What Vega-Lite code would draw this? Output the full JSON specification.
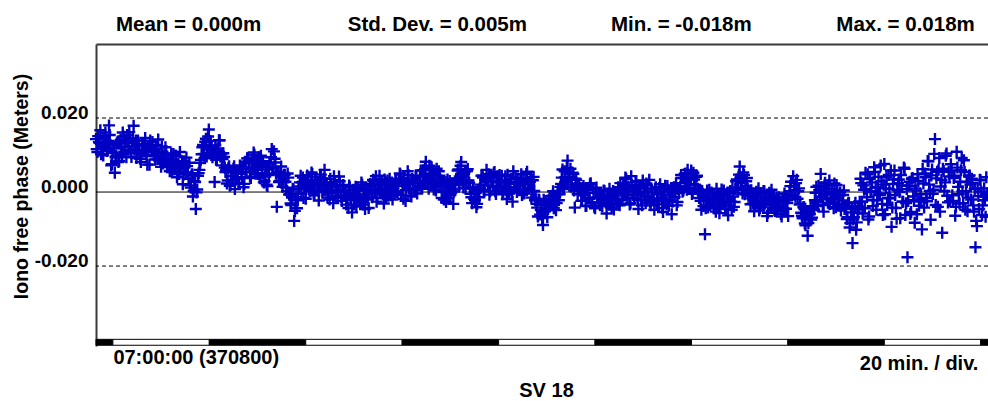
{
"$schema": "https://vega.github.io/schema/vega-lite/v6.json",
"width": 892,
"height": 302,
"autosize": {"type": "none"},
"padding": {"left": 96, "top": 44, "right": 0, "bottom": 55},
"background": "white",
"config": {
  "view": {"stroke": null},
  "font": "Liberation Sans",
  "axis": {"grid": false, "ticks": false, "tickSize": 0, "labelFont": "Liberation Sans", "labelFontWeight": "bold", "labelColor": "black", "titleFont": "Liberation Sans", "titleFontWeight": "bold", "titleColor": "black", "labelFlush": false, "labelOverlap": false, "labelBound": false},
  "axisY": {"labelExpr": "datum.value > 10 ? '0.020' : datum.value < -10 ? '-0.020' : '0.000'", "labelFontSize": 19, "labelBaseline": "alphabetic", "labelAlign": "right", "labelPadding": 8, "domain": true, "domainColor": "#3a3a3a", "domainWidth": 2, "titleFontSize": 19.5, "titleAngle": 270, "titleX": -75, "titleY": 142, "titleAlign": "center", "titleBaseline": "middle"}
},
"datasets": {
"pts": [
{"t":0,"v":14.3},{"t":0.3,"v":10.8},{"t":0.6,"v":13.5},{"t":0.9,"v":16.7},{"t":1.2,"v":12.2},{"t":1.5,"v":9.9},{"t":1.8,"v":14.8},{"t":2.1,"v":13.2},{"t":2.4,"v":11.4},{"t":2.7,"v":18.0},
{"t":3.0,"v":12.7},{"t":3.3,"v":7.5},{"t":3.6,"v":11.9},{"t":3.9,"v":5.2},{"t":4.2,"v":9.8},{"t":4.5,"v":13.6},{"t":4.8,"v":8.4},{"t":5.1,"v":14.1},{"t":5.4,"v":10.3},{"t":5.7,"v":15.0},
{"t":6.0,"v":12.1},{"t":6.3,"v":9.4},{"t":6.6,"v":13.8},{"t":6.9,"v":16.2},{"t":7.2,"v":11.0},{"t":7.5,"v":13.3},{"t":7.8,"v":17.9},{"t":8.1,"v":12.4},{"t":8.4,"v":9.2},{"t":8.7,"v":13.9},
{"t":9.0,"v":10.6},{"t":9.3,"v":8.1},{"t":9.6,"v":12.8},{"t":9.9,"v":11.3},{"t":10.2,"v":14.6},{"t":10.5,"v":9.7},{"t":10.8,"v":11.9},{"t":11.1,"v":7.4},{"t":11.4,"v":12.2},{"t":11.7,"v":13.5},
{"t":12.0,"v":10.1},{"t":12.3,"v":8.8},{"t":12.6,"v":11.6},{"t":12.9,"v":14.2},{"t":13.2,"v":9.5},{"t":13.5,"v":6.8},{"t":13.8,"v":10.9},{"t":14.1,"v":8.2},{"t":14.4,"v":12.1},{"t":14.7,"v":7.3},
{"t":15.0,"v":9.0},{"t":15.3,"v":5.6},{"t":15.6,"v":10.4},{"t":15.9,"v":8.6},{"t":16.2,"v":6.1},{"t":16.5,"v":9.9},{"t":16.8,"v":4.0},{"t":17.1,"v":7.7},{"t":17.4,"v":10.8},{"t":17.7,"v":6.4},
{"t":18.0,"v":2.1},{"t":18.3,"v":8.3},{"t":18.6,"v":5.2},{"t":18.9,"v":7.0},{"t":19.2,"v":3.6},{"t":19.5,"v":1.8},{"t":19.8,"v":4.5},{"t":20.1,"v":-1.2},{"t":20.4,"v":2.9},{"t":20.7,"v":-4.6},
{"t":21.0,"v":0.7},{"t":21.3,"v":5.1},{"t":21.6,"v":7.9},{"t":21.9,"v":10.2},{"t":22.2,"v":12.7},{"t":22.5,"v":9.1},{"t":22.8,"v":14.4},{"t":23.1,"v":11.5},{"t":23.4,"v":16.9},{"t":23.7,"v":13.8},
{"t":24.0,"v":12.3},{"t":24.3,"v":10.0},{"t":24.6,"v":2.7},{"t":24.9,"v":8.7},{"t":25.2,"v":11.8},{"t":25.5,"v":14.0},{"t":25.8,"v":9.6},{"t":26.1,"v":7.2},{"t":26.4,"v":10.5},{"t":26.7,"v":6.6},
{"t":27.0,"v":5.9},{"t":27.3,"v":3.1},{"t":27.6,"v":7.0},{"t":27.9,"v":1.9},{"t":28.2,"v":4.4},{"t":28.5,"v":6.3},{"t":28.8,"v":0.8},{"t":29.1,"v":3.7},{"t":29.4,"v":5.5},{"t":29.7,"v":2.2},
{"t":30.0,"v":6.8},{"t":30.3,"v":4.0},{"t":30.6,"v":1.3},{"t":30.9,"v":8.2},{"t":31.2,"v":5.4},{"t":31.5,"v":9.1},{"t":31.8,"v":6.6},{"t":32.1,"v":3.8},{"t":32.4,"v":7.9},{"t":32.7,"v":10.7},
{"t":33.0,"v":6.0},{"t":33.3,"v":8.5},{"t":33.6,"v":4.9},{"t":33.9,"v":7.3},{"t":34.2,"v":9.8},{"t":34.5,"v":5.1},{"t":34.8,"v":2.6},{"t":35.1,"v":4.2},{"t":35.4,"v":2.0},{"t":35.7,"v":6.1},
{"t":36.0,"v":7.8},{"t":36.3,"v":9.4},{"t":36.6,"v":6.5},{"t":36.9,"v":11.0},{"t":37.2,"v":8.0},{"t":37.5,"v":-4.0},{"t":37.8,"v":5.3},{"t":38.1,"v":3.0},{"t":38.4,"v":6.9},{"t":38.7,"v":1.4},
{"t":39.0,"v":4.7},{"t":39.3,"v":2.8},{"t":39.6,"v":0.3},{"t":39.9,"v":3.9},{"t":40.2,"v":-0.6},{"t":40.5,"v":-3.5},{"t":40.8,"v":0.9},{"t":41.1,"v":-7.8},{"t":41.4,"v":-2.1},{"t":41.7,"v":-4.4},
{"t":42.0,"v":1.5},{"t":42.3,"v":2.6},{"t":42.6,"v":-0.4},{"t":42.9,"v":3.9},{"t":43.2,"v":1.1},{"t":43.5,"v":-1.8},{"t":43.8,"v":4.5},{"t":44.1,"v":2.0},{"t":44.4,"v":0.2},{"t":44.7,"v":5.3},
{"t":45.0,"v":1.6},{"t":45.3,"v":-0.9},{"t":45.6,"v":3.3},{"t":45.9,"v":2.4},{"t":46.2,"v":-2.3},{"t":46.5,"v":4.1},{"t":46.8,"v":1.9},{"t":47.1,"v":0.5},{"t":47.4,"v":6.0},{"t":47.7,"v":2.2},
{"t":48.0,"v":-1.5},{"t":48.3,"v":1.3},{"t":48.6,"v":3.6},{"t":48.9,"v":-0.2},{"t":49.2,"v":-3.0},{"t":49.5,"v":2.8},{"t":49.8,"v":0.6},{"t":50.1,"v":-1.1},{"t":50.4,"v":4.2},{"t":50.7,"v":0.1},
{"t":51.0,"v":-2.4},{"t":51.3,"v":1.9},{"t":51.6,"v":0.3},{"t":51.9,"v":-3.4},{"t":52.2,"v":-0.7},{"t":52.5,"v":1.8},{"t":52.8,"v":-2.2},{"t":53.1,"v":-5.5},{"t":53.4,"v":0.6},{"t":53.7,"v":-1.6},
{"t":54.0,"v":-3.9},{"t":54.3,"v":1.2},{"t":54.6,"v":-0.9},{"t":54.9,"v":-2.7},{"t":55.2,"v":2.0},{"t":55.5,"v":-1.3},{"t":55.8,"v":-4.6},{"t":56.1,"v":0.4},{"t":56.4,"v":-2.0},{"t":56.7,"v":-0.2},
{"t":57.0,"v":1.7},{"t":57.3,"v":-1.4},{"t":57.6,"v":3.0},{"t":57.9,"v":0.5},{"t":58.2,"v":-2.6},{"t":58.5,"v":2.3},{"t":58.8,"v":4.4},{"t":59.1,"v":-0.3},{"t":59.4,"v":1.0},{"t":59.7,"v":-3.1},
{"t":60.0,"v":2.7},{"t":60.3,"v":0.9},{"t":60.6,"v":-1.0},{"t":60.9,"v":3.6},{"t":61.2,"v":1.4},{"t":61.5,"v":-2.0},{"t":61.8,"v":0.2},{"t":62.1,"v":3.1},{"t":62.4,"v":0.0},{"t":62.7,"v":2.4},
{"t":63.0,"v":5.0},{"t":63.3,"v":-0.8},{"t":63.6,"v":1.7},{"t":63.9,"v":3.8},{"t":64.2,"v":-2.4},{"t":64.5,"v":2.0},{"t":64.8,"v":4.6},{"t":65.1,"v":0.7},{"t":65.4,"v":-1.2},{"t":65.7,"v":2.9},
{"t":66.0,"v":1.1},{"t":66.3,"v":4.2},{"t":66.6,"v":-0.4},{"t":66.9,"v":2.5},{"t":67.2,"v":4.1},{"t":67.5,"v":1.6},{"t":67.8,"v":5.9},{"t":68.1,"v":2.8},{"t":68.4,"v":8.2},{"t":68.7,"v":3.4},
{"t":69.0,"v":0.9},{"t":69.3,"v":5.0},{"t":69.6,"v":6.7},{"t":69.9,"v":2.2},{"t":70.2,"v":4.5},{"t":70.5,"v":0.4},{"t":70.8,"v":3.0},{"t":71.1,"v":5.6},{"t":71.4,"v":1.5},{"t":71.7,"v":-1.6},
{"t":72.0,"v":2.6},{"t":72.3,"v":0.1},{"t":72.6,"v":-2.7},{"t":72.9,"v":3.4},{"t":73.2,"v":1.0},{"t":73.5,"v":-0.8},{"t":73.8,"v":2.1},{"t":74.1,"v":-3.2},{"t":74.4,"v":0.7},{"t":74.7,"v":3.6},
{"t":75.0,"v":5.8},{"t":75.3,"v":2.0},{"t":75.6,"v":7.1},{"t":75.9,"v":4.3},{"t":76.2,"v":1.2},{"t":76.5,"v":5.5},{"t":76.8,"v":3.1},{"t":77.1,"v":6.2},{"t":77.4,"v":2.5},{"t":77.7,"v":-0.5},
{"t":78.0,"v":-3.0},{"t":78.3,"v":1.0},{"t":78.6,"v":-2.2},{"t":78.9,"v":-4.1},{"t":79.2,"v":0.3},{"t":79.5,"v":-1.4},{"t":79.8,"v":2.0},{"t":80.1,"v":4.4},{"t":80.4,"v":0.6},{"t":80.7,"v":3.3},
{"t":81.0,"v":6.0},{"t":81.3,"v":1.8},{"t":81.6,"v":-0.7},{"t":81.9,"v":3.9},{"t":82.2,"v":2.6},{"t":82.5,"v":5.1},{"t":82.8,"v":0.2},{"t":83.1,"v":3.0},{"t":83.4,"v":1.5},{"t":83.7,"v":4.6},
{"t":84.0,"v":2.7},{"t":84.3,"v":-0.6},{"t":84.6,"v":1.4},{"t":84.9,"v":4.3},{"t":85.2,"v":-1.9},{"t":85.5,"v":2.2},{"t":85.8,"v":0.5},{"t":86.1,"v":3.5},{"t":86.4,"v":-2.6},{"t":86.7,"v":1.0},
{"t":87.0,"v":3.9},{"t":87.3,"v":0.0},{"t":87.6,"v":2.4},{"t":87.9,"v":1.6},{"t":88.2,"v":4.8},{"t":88.5,"v":2.1},{"t":88.8,"v":-0.4},{"t":89.1,"v":3.6},{"t":89.4,"v":5.5},{"t":89.7,"v":1.0},
{"t":90.0,"v":2.8},{"t":90.3,"v":-1.5},{"t":90.6,"v":3.2},{"t":90.9,"v":0.3},{"t":91.2,"v":-1.8},{"t":91.5,"v":-4.2},{"t":91.8,"v":-2.0},{"t":92.1,"v":-6.1},{"t":92.4,"v":-3.3},{"t":92.7,"v":-8.9},
{"t":93.0,"v":-5.0},{"t":93.3,"v":-2.5},{"t":93.6,"v":-6.8},{"t":93.9,"v":-3.9},{"t":94.2,"v":-1.2},{"t":94.5,"v":-3.6},{"t":94.8,"v":0.2},{"t":95.1,"v":-2.8},{"t":95.4,"v":-4.9},{"t":95.7,"v":-0.6},
{"t":96.0,"v":-2.2},{"t":96.3,"v":1.4},{"t":96.6,"v":3.9},{"t":96.9,"v":0.8},{"t":97.2,"v":5.6},{"t":97.5,"v":2.7},{"t":97.8,"v":8.5},{"t":98.1,"v":4.1},{"t":98.4,"v":6.3},{"t":98.7,"v":2.0},
{"t":99.0,"v":4.9},{"t":99.3,"v":-4.2},{"t":99.6,"v":3.3},{"t":99.9,"v":-0.6},{"t":100.2,"v":2.2},{"t":100.5,"v":0.5},{"t":100.8,"v":-2.4},{"t":101.1,"v":1.6},{"t":101.4,"v":-0.9},{"t":101.7,"v":-3.7},
{"t":102.0,"v":0.8},{"t":102.3,"v":-1.8},{"t":102.6,"v":2.4},{"t":102.9,"v":-2.9},{"t":103.2,"v":-0.2},{"t":103.5,"v":-4.4},{"t":103.8,"v":1.2},{"t":104.1,"v":-1.4},{"t":104.4,"v":-3.0},{"t":104.7,"v":-1.0},
{"t":105.0,"v":-3.8},{"t":105.3,"v":0.4},{"t":105.6,"v":-2.5},{"t":105.9,"v":-5.8},{"t":106.2,"v":-1.7},{"t":106.5,"v":0.9},{"t":106.8,"v":-3.2},{"t":107.1,"v":-2.0},{"t":107.4,"v":-4.7},{"t":107.7,"v":-0.6},
{"t":108.0,"v":-2.9},{"t":108.3,"v":1.3},{"t":108.6,"v":-3.6},{"t":108.9,"v":0.6},{"t":109.2,"v":-2.1},{"t":109.5,"v":2.0},{"t":109.8,"v":3.9},{"t":110.1,"v":-0.9},{"t":110.4,"v":1.5},{"t":110.7,"v":-3.4},
{"t":111.0,"v":4.3},{"t":111.3,"v":0.2},{"t":111.6,"v":-1.6},{"t":111.9,"v":2.7},{"t":112.2,"v":-0.4},{"t":112.5,"v":-4.6},{"t":112.8,"v":1.0},{"t":113.1,"v":-2.3},{"t":113.4,"v":3.1},{"t":113.7,"v":-0.9},
{"t":114.0,"v":-3.0},{"t":114.3,"v":1.8},{"t":114.6,"v":-1.2},{"t":114.9,"v":-2.6},{"t":115.2,"v":0.7},{"t":115.5,"v":-1.9},{"t":115.8,"v":-4.8},{"t":116.1,"v":1.3},{"t":116.4,"v":-0.4},{"t":116.7,"v":-3.3},
{"t":117.0,"v":2.1},{"t":117.3,"v":-1.5},{"t":117.6,"v":-5.4},{"t":117.9,"v":0.0},{"t":118.2,"v":-2.2},{"t":118.5,"v":1.6},{"t":118.8,"v":-3.7},{"t":119.1,"v":-0.8},{"t":119.4,"v":-6.0},{"t":119.7,"v":0.9},
{"t":120.0,"v":-1.3},{"t":120.3,"v":2.4},{"t":120.6,"v":-2.7},{"t":120.9,"v":-0.3},{"t":121.2,"v":1.5},{"t":121.5,"v":3.8},{"t":121.8,"v":0.4},{"t":122.1,"v":4.9},{"t":122.4,"v":2.6},{"t":122.7,"v":6.0},
{"t":123.0,"v":1.1},{"t":123.3,"v":3.4},{"t":123.6,"v":-0.5},{"t":123.9,"v":5.2},{"t":124.2,"v":2.0},{"t":124.5,"v":4.1},{"t":124.8,"v":0.9},{"t":125.1,"v":-1.6},{"t":125.4,"v":-2.4},{"t":125.7,"v":0.3},
{"t":126.0,"v":-3.8},{"t":126.3,"v":-11.4},{"t":126.6,"v":-1.5},{"t":126.9,"v":-4.2},{"t":127.2,"v":0.6},{"t":127.5,"v":-2.9},{"t":127.8,"v":-0.7},{"t":128.1,"v":-4.4},{"t":128.4,"v":-1.6},{"t":128.7,"v":0.9},
{"t":129.0,"v":-3.5},{"t":129.3,"v":-5.7},{"t":129.6,"v":-1.1},{"t":129.9,"v":-2.8},{"t":130.2,"v":0.4},{"t":130.5,"v":-3.9},{"t":130.8,"v":-2.1},{"t":131.1,"v":-6.3},{"t":131.4,"v":-0.3},{"t":131.7,"v":-2.6},
{"t":132.0,"v":1.2},{"t":132.3,"v":-4.0},{"t":132.6,"v":0.8},{"t":132.9,"v":3.4},{"t":133.2,"v":1.1},{"t":133.5,"v":6.9},{"t":133.8,"v":2.5},{"t":134.1,"v":-0.4},{"t":134.4,"v":4.6},{"t":134.7,"v":1.7},
{"t":135.0,"v":3.8},{"t":135.3,"v":-1.0},{"t":135.6,"v":-1.7},{"t":135.9,"v":0.5},{"t":136.2,"v":-3.1},{"t":136.5,"v":-5.2},{"t":136.8,"v":-0.8},{"t":137.1,"v":-2.4},{"t":137.4,"v":1.0},{"t":137.7,"v":-4.3},
{"t":138.0,"v":-1.3},{"t":138.3,"v":-3.6},{"t":138.6,"v":0.2},{"t":138.9,"v":-2.7},{"t":139.2,"v":-6.5},{"t":139.5,"v":-1.0},{"t":139.8,"v":-3.3},{"t":140.1,"v":0.6},{"t":140.4,"v":-2.0},{"t":140.7,"v":-4.8},
{"t":141.0,"v":-2.5},{"t":141.3,"v":-5.1},{"t":141.6,"v":-1.4},{"t":141.9,"v":-3.9},{"t":142.2,"v":-6.6},{"t":142.5,"v":-2.2},{"t":142.8,"v":-0.4},{"t":143.1,"v":-4.5},{"t":143.4,"v":-3.0},{"t":143.7,"v":-1.1},
{"t":144.0,"v":1.6},{"t":144.3,"v":-0.9},{"t":144.6,"v":4.3},{"t":144.9,"v":0.5},{"t":145.2,"v":2.4},{"t":145.5,"v":-1.8},{"t":145.8,"v":1.0},{"t":146.1,"v":-3.2},{"t":146.4,"v":-6.4},{"t":146.7,"v":-4.1},
{"t":147.0,"v":-8.5},{"t":147.3,"v":-5.6},{"t":147.6,"v":-11.8},{"t":147.9,"v":-7.0},{"t":148.2,"v":-3.9},{"t":148.5,"v":-6.9},{"t":148.8,"v":-4.6},{"t":149.1,"v":-2.2},{"t":149.4,"v":1.4},{"t":149.7,"v":-3.8},
{"t":150.0,"v":0.5},{"t":150.3,"v":4.9},{"t":150.6,"v":-1.2},{"t":150.9,"v":-5.3},{"t":151.2,"v":2.5},{"t":151.5,"v":-0.6},{"t":151.8,"v":-2.9},{"t":152.1,"v":3.1},{"t":152.4,"v":-1.9},{"t":152.7,"v":0.8},
{"t":153.0,"v":-4.4},{"t":153.3,"v":-1.5},{"t":153.6,"v":1.9},{"t":153.9,"v":-3.4},{"t":154.2,"v":-0.9},{"t":154.5,"v":-5.0},{"t":154.8,"v":-2.3},{"t":155.1,"v":0.4},{"t":155.4,"v":-4.0},{"t":155.7,"v":-7.3},
{"t":156.0,"v":-3.0},{"t":156.3,"v":-9.6},{"t":156.6,"v":-5.5},{"t":156.9,"v":-13.8},{"t":157.2,"v":-6.8},{"t":157.5,"v":-2.9},{"t":157.8,"v":-8.2},{"t":158.1,"v":-4.7},{"t":158.4,"v":-2.6},{"t":158.7,"v":2.4},
{"t":159.0,"v":-5.8},{"t":159.3,"v":0.6},{"t":159.6,"v":5.2},{"t":159.9,"v":-1.4},{"t":160.2,"v":-7.4},{"t":160.5,"v":3.5},{"t":160.8,"v":0.0},{"t":161.1,"v":-3.8},{"t":161.4,"v":6.7},{"t":161.7,"v":1.3},
{"t":162.0,"v":-2.2},{"t":162.3,"v":4.1},{"t":162.6,"v":-0.8},{"t":162.9,"v":2.9},{"t":163.2,"v":-6.2},{"t":163.5,"v":7.6},{"t":163.8,"v":1.0},{"t":164.1,"v":-3.5},{"t":164.4,"v":4.6},{"t":164.7,"v":-1.7},
{"t":165.0,"v":-9.4},{"t":165.3,"v":2.2},{"t":165.6,"v":5.8},{"t":165.9,"v":-4.3},{"t":166.2,"v":0.5},{"t":166.5,"v":3.4},{"t":166.8,"v":-7.1},{"t":167.1,"v":1.8},{"t":167.4,"v":-2.6},{"t":167.7,"v":6.3},
{"t":168.0,"v":-3.0},{"t":168.3,"v":-17.6},{"t":168.6,"v":1.7},{"t":168.9,"v":-5.9},{"t":169.2,"v":3.6},{"t":169.5,"v":-1.2},{"t":169.8,"v":-8.3},{"t":170.1,"v":0.4},{"t":170.4,"v":4.8},{"t":170.7,"v":-3.7},
{"t":171.0,"v":-0.6},{"t":171.3,"v":-10.1},{"t":171.6,"v":2.3},{"t":171.9,"v":5.0},{"t":172.2,"v":-1.6},{"t":172.5,"v":8.4},{"t":172.8,"v":2.0},{"t":173.1,"v":-7.5},{"t":173.4,"v":6.1},{"t":173.7,"v":0.6},
{"t":174.0,"v":14.3},{"t":174.3,"v":3.7},{"t":174.6,"v":-4.0},{"t":174.9,"v":9.2},{"t":175.2,"v":1.5},{"t":175.5,"v":-11.0},{"t":175.8,"v":5.7},{"t":176.1,"v":2.6},{"t":176.4,"v":10.4},{"t":176.7,"v":-2.8},
{"t":177.0,"v":4.2},{"t":177.3,"v":7.5},{"t":177.6,"v":-0.9},{"t":177.9,"v":3.8},{"t":178.2,"v":-6.4},{"t":178.5,"v":10.9},{"t":178.8,"v":1.4},{"t":179.1,"v":-3.1},{"t":179.4,"v":5.9},{"t":179.7,"v":0.2},
{"t":180.0,"v":8.6},{"t":180.3,"v":-4.8},{"t":180.6,"v":2.7},{"t":180.9,"v":-1.5},{"t":181.2,"v":4.5},{"t":181.5,"v":-2.0},{"t":181.8,"v":2.4},{"t":182.1,"v":-5.3},{"t":182.4,"v":-14.9},{"t":182.7,"v":-9.2},
{"t":183.0,"v":-1.1},{"t":183.3,"v":3.3},{"t":183.6,"v":0.1},{"t":183.9,"v":-3.6},{"t":184.2,"v":1.0},{"t":184.5,"v":-6.7},{"t":184.8,"v":-0.4},
{"t":0.15,"v":11.6},{"t":0.45,"v":15.1},{"t":0.75,"v":13.3},{"t":1.05,"v":10.2},{"t":1.35,"v":14.6},{"t":1.65,"v":12.5},{"t":1.95,"v":16.1},{"t":2.25,"v":11.1},{"t":2.55,"v":13.8},{"t":2.85,"v":15.4},
{"t":3.15,"v":7.2},{"t":3.45,"v":10.6},{"t":3.75,"v":11.8},{"t":4.05,"v":9.4},{"t":4.35,"v":13.2},{"t":4.65,"v":8.1},{"t":4.95,"v":13.1},{"t":5.25,"v":12.3},{"t":5.55,"v":16.1},{"t":5.85,"v":10.9},
{"t":6.15,"v":13.5},{"t":6.45,"v":15.4},{"t":6.75,"v":11.4},{"t":7.05,"v":14.5},{"t":7.35,"v":9.5},{"t":7.65,"v":14.5},{"t":7.95,"v":11.4},{"t":8.25,"v":13.9},{"t":8.55,"v":10.6},{"t":8.85,"v":12.7},
{"t":9.15,"v":9.0},{"t":9.45,"v":10.2},{"t":9.75,"v":13.0},{"t":10.05,"v":11.4},{"t":10.35,"v":11.0},{"t":10.65,"v":7.4},{"t":10.95,"v":12.2},{"t":11.25,"v":13.9},{"t":11.55,"v":11.0},{"t":11.85,"v":11.4},
{"t":12.15,"v":9.7},{"t":12.45,"v":12.7},{"t":12.75,"v":8.9},{"t":13.05,"v":10.3},{"t":13.35,"v":8.6},{"t":13.65,"v":12.3},{"t":13.95,"v":7.7},{"t":14.25,"v":9.9},{"t":14.55,"v":10.2},{"t":14.85,"v":7.2},
{"t":15.15,"v":8.0},{"t":15.45,"v":7.6},{"t":15.75,"v":5.4},{"t":16.05,"v":10.3},{"t":16.35,"v":6.7},{"t":16.65,"v":9.7},{"t":16.95,"v":7.2},{"t":17.25,"v":4.9},{"t":17.55,"v":6.8},{"t":17.85,"v":8.3},
{"t":18.15,"v":4.7},{"t":18.45,"v":7.2},{"t":18.75,"v":9.3},{"t":19.05,"v":5.3},{"t":19.35,"v":7.9},{"t":19.65,"v":1.2},{"t":19.95,"v":4.8},{"t":20.25,"v":0.3},{"t":20.55,"v":2.7},{"t":20.85,"v":-0.1},
{"t":21.15,"v":4.4},{"t":21.45,"v":6.0},{"t":21.75,"v":8.7},{"t":22.05,"v":12.1},{"t":22.35,"v":10.3},{"t":22.65,"v":13.6},{"t":22.95,"v":9.6},{"t":23.25,"v":15.0},{"t":23.55,"v":12.1},{"t":23.85,"v":10.5},
{"t":24.15,"v":9.4},{"t":24.45,"v":11.2},{"t":24.75,"v":12.6},{"t":25.05,"v":8.8},{"t":25.35,"v":11.1},{"t":25.65,"v":14.0},{"t":25.95,"v":10.2},{"t":26.25,"v":8.9},{"t":26.55,"v":9.5},{"t":26.85,"v":5.4},
{"t":27.15,"v":2.3},{"t":27.45,"v":6.4},{"t":27.75,"v":1.7},{"t":28.05,"v":5.8},{"t":28.35,"v":3.2},{"t":28.65,"v":7.0},{"t":28.95,"v":3.8},{"t":29.25,"v":5.1},{"t":29.55,"v":2.4},{"t":29.85,"v":7.2},
{"t":30.15,"v":4.9},{"t":30.45,"v":6.2},{"t":30.75,"v":2.2},{"t":31.05,"v":6.3},{"t":31.35,"v":9.1},{"t":31.65,"v":8.3},{"t":31.95,"v":4.2},{"t":32.25,"v":8.6},{"t":32.55,"v":6.5},{"t":32.85,"v":10.1},
{"t":33.15,"v":5.1},{"t":33.45,"v":7.8},{"t":33.75,"v":9.4},{"t":34.05,"v":3.7},{"t":34.35,"v":7.1},{"t":34.65,"v":8.3},{"t":34.95,"v":2.9},{"t":35.25,"v":6.7},{"t":35.55,"v":1.6},{"t":35.85,"v":4.6},
{"t":36.15,"v":7.8},{"t":36.45,"v":11.6},{"t":36.75,"v":6.4},{"t":37.05,"v":9.0},{"t":37.35,"v":5.0},{"t":37.65,"v":5.5},{"t":37.95,"v":2.7},{"t":38.25,"v":5.2},{"t":38.55,"v":3.1},{"t":38.85,"v":2.8},
{"t":39.15,"v":4.7},{"t":39.45,"v":1.2},{"t":39.75,"v":5.0},{"t":40.05,"v":-0.7},{"t":40.35,"v":-3.1},{"t":40.65,"v":-1.5},{"t":40.95,"v":0.7},{"t":41.25,"v":-5.1},{"t":41.55,"v":-1.3},{"t":41.85,"v":-2.2},
{"t":42.15,"v":0.8},{"t":42.45,"v":4.4},{"t":42.75,"v":2.6},{"t":43.05,"v":-1.6},{"t":43.35,"v":3.2},{"t":43.65,"v":1.7},{"t":43.95,"v":4.1},{"t":44.25,"v":0.7},{"t":44.55,"v":2.4},{"t":44.85,"v":4.9},
{"t":45.15,"v":-0.4},{"t":45.45,"v":3.2},{"t":45.75,"v":1.3},{"t":46.05,"v":0.5},{"t":46.35,"v":2.0},{"t":46.65,"v":4.7},{"t":46.95,"v":-0.1},{"t":47.25,"v":3.6},{"t":47.55,"v":0.4},{"t":47.85,"v":2.3},
{"t":48.15,"v":0.2},{"t":48.45,"v":-2.0},{"t":48.75,"v":2.1},{"t":49.05,"v":-0.3},{"t":49.35,"v":4.3},{"t":49.65,"v":-1.6},{"t":49.95,"v":1.9},{"t":50.25,"v":0.3},{"t":50.55,"v":2.9},{"t":50.85,"v":-1.3},
{"t":51.15,"v":1.8},{"t":51.45,"v":-1.1},{"t":51.75,"v":0.1},{"t":52.05,"v":-2.0},{"t":52.35,"v":-4.3},{"t":52.65,"v":1.3},{"t":52.95,"v":-2.1},{"t":53.25,"v":-0.3},{"t":53.55,"v":-3.4},{"t":53.85,"v":1.4},
{"t":54.15,"v":-1.6},{"t":54.45,"v":0.4},{"t":54.75,"v":-1.8},{"t":55.05,"v":2.6},{"t":55.35,"v":-3.4},{"t":55.65,"v":0.9},{"t":55.95,"v":-1.4},{"t":56.25,"v":-0.6},{"t":56.55,"v":-4.3},{"t":56.85,"v":2.2},
{"t":57.15,"v":1.0},{"t":57.45,"v":3.3},{"t":57.75,"v":-0.3},{"t":58.05,"v":4.3},{"t":58.35,"v":-1.6},{"t":58.65,"v":1.9},{"t":58.95,"v":0.3},{"t":59.25,"v":2.9},{"t":59.55,"v":-0.6},{"t":59.85,"v":3.4},
{"t":60.15,"v":-1.4},{"t":60.45,"v":3.1},{"t":60.75,"v":1.8},{"t":61.05,"v":-0.9},{"t":61.35,"v":2.6},{"t":61.65,"v":0.6},{"t":61.95,"v":-0.4},{"t":62.25,"v":2.9},{"t":62.55,"v":0.0},{"t":62.85,"v":3.3},
{"t":63.15,"v":4.7},{"t":63.45,"v":2.8},{"t":63.75,"v":-1.8},{"t":64.05,"v":2.4},{"t":64.35,"v":0.5},{"t":64.65,"v":5.6},{"t":64.95,"v":1.0},{"t":65.25,"v":-1.0},{"t":65.55,"v":3.5},{"t":65.85,"v":2.6},
{"t":66.15,"v":0.5},{"t":66.45,"v":4.3},{"t":66.75,"v":2.9},{"t":67.05,"v":2.3},{"t":67.35,"v":5.8},{"t":67.65,"v":1.2},{"t":67.95,"v":4.5},{"t":68.25,"v":6.2},{"t":68.55,"v":2.7},{"t":68.85,"v":3.6},
{"t":69.15,"v":7.1},{"t":69.45,"v":2.3},{"t":69.75,"v":4.6},{"t":70.05,"v":0.7},{"t":70.35,"v":4.8},{"t":70.65,"v":6.3},{"t":70.95,"v":2.6},{"t":71.25,"v":4.4},{"t":71.55,"v":3.1},{"t":71.85,"v":0.0},
{"t":72.15,"v":-2.0},{"t":72.45,"v":2.7},{"t":72.75,"v":1.8},{"t":73.05,"v":-1.6},{"t":73.35,"v":3.0},{"t":73.65,"v":-0.3},{"t":73.95,"v":2.3},{"t":74.25,"v":0.1},{"t":74.55,"v":2.0},{"t":74.85,"v":3.6},
{"t":75.15,"v":6.1},{"t":75.45,"v":4.2},{"t":75.75,"v":8.1},{"t":76.05,"v":2.4},{"t":76.35,"v":4.9},{"t":76.65,"v":1.0},{"t":76.95,"v":5.7},{"t":77.25,"v":3.1},{"t":77.55,"v":1.0},{"t":77.85,"v":-1.4},
{"t":78.15,"v":1.3},{"t":78.45,"v":-1.8},{"t":78.75,"v":-0.2},{"t":79.05,"v":-3.2},{"t":79.35,"v":0.6},{"t":79.65,"v":1.2},{"t":79.95,"v":4.4},{"t":80.25,"v":3.9},{"t":80.55,"v":0.3},{"t":80.85,"v":3.3},
{"t":81.15,"v":3.0},{"t":81.45,"v":4.8},{"t":81.75,"v":0.2},{"t":82.05,"v":2.7},{"t":82.35,"v":1.7},{"t":82.65,"v":5.4},{"t":82.95,"v":-0.5},{"t":83.25,"v":4.3},{"t":83.55,"v":3.1},{"t":83.85,"v":1.3},
{"t":84.15,"v":4.4},{"t":84.45,"v":0.1},{"t":84.75,"v":3.0},{"t":85.05,"v":0.6},{"t":85.35,"v":4.7},{"t":85.65,"v":-0.4},{"t":85.95,"v":2.7},{"t":86.25,"v":0.0},{"t":86.55,"v":5.6},{"t":86.85,"v":1.2},
{"t":87.15,"v":2.8},{"t":87.45,"v":3.6},{"t":87.75,"v":0.7},{"t":88.05,"v":3.3},{"t":88.35,"v":-0.8},{"t":88.65,"v":3.3},{"t":88.95,"v":0.6},{"t":89.25,"v":4.9},{"t":89.55,"v":1.1},{"t":89.85,"v":2.1},
{"t":90.15,"v":3.3},{"t":90.45,"v":0.2},{"t":90.75,"v":4.1},{"t":91.05,"v":-2.2},{"t":91.35,"v":-3.2},{"t":91.65,"v":-6.6},{"t":91.95,"v":-2.2},{"t":92.25,"v":-4.9},{"t":92.55,"v":-7.0},{"t":92.85,"v":-2.1},
{"t":93.15,"v":-5.2},{"t":93.45,"v":-3.3},{"t":93.75,"v":-4.6},{"t":94.05,"v":-1.8},{"t":94.35,"v":-2.6},{"t":94.65,"v":-1.0},{"t":94.95,"v":-4.4},{"t":95.25,"v":-1.3},{"t":95.55,"v":-3.0},{"t":95.85,"v":0.3},
{"t":96.15,"v":-0.6},{"t":96.45,"v":2.2},{"t":96.75,"v":6.1},{"t":97.05,"v":1.1},{"t":97.35,"v":4.0},{"t":97.65,"v":6.6},{"t":97.95,"v":3.3},{"t":98.25,"v":4.9},{"t":98.55,"v":1.4},{"t":98.85,"v":5.2},
{"t":99.15,"v":0.4},{"t":99.45,"v":3.6},{"t":99.75,"v":2.3},{"t":100.05,"v":1.9},{"t":100.35,"v":0.8},{"t":100.65,"v":-2.4},{"t":100.95,"v":1.1},{"t":101.25,"v":-0.3},{"t":101.55,"v":-3.8},{"t":101.85,"v":0.6},
{"t":102.15,"v":-1.5},{"t":102.45,"v":2.1},{"t":102.75,"v":-2.9},{"t":103.05,"v":1.0},{"t":103.35,"v":-4.0},{"t":103.65,"v":0.9},{"t":103.95,"v":-1.7},{"t":104.25,"v":-0.4},{"t":104.55,"v":-3.6},{"t":104.85,"v":-0.8},
{"t":105.15,"v":-2.0},{"t":105.45,"v":0.3},{"t":105.75,"v":-2.8},{"t":106.05,"v":-0.7},{"t":106.35,"v":-3.3},{"t":106.65,"v":-1.1},{"t":106.95,"v":-4.2},{"t":107.25,"v":0.3},{"t":107.55,"v":-1.2},{"t":107.85,"v":-2.0},
{"t":108.15,"v":-0.1},{"t":108.45,"v":-3.3},{"t":108.75,"v":2.4},{"t":109.05,"v":-2.2},{"t":109.35,"v":1.6},{"t":109.65,"v":-0.4},{"t":109.95,"v":3.6},{"t":110.25,"v":-1.6},{"t":110.55,"v":1.0},{"t":110.85,"v":-3.0},
{"t":111.15,"v":2.0},{"t":111.45,"v":-0.8},{"t":111.75,"v":0.4},{"t":112.05,"v":2.9},{"t":112.35,"v":-2.1},{"t":112.65,"v":1.7},{"t":112.95,"v":-0.4},{"t":113.25,"v":-3.6},{"t":113.55,"v":1.2},{"t":113.85,"v":0.0},
{"t":114.15,"v":2.3},{"t":114.45,"v":-1.3},{"t":114.75,"v":3.3},{"t":115.05,"v":-3.6},{"t":115.35,"v":-0.1},{"t":115.65,"v":-1.7},{"t":115.95,"v":0.9},{"t":116.25,"v":-3.2},{"t":116.55,"v":-2.4},{"t":116.85,"v":1.1},
{"t":117.15,"v":-0.7},{"t":117.45,"v":-4.3},{"t":117.75,"v":-1.5},{"t":118.05,"v":1.7},{"t":118.35,"v":-3.4},{"t":118.65,"v":0.6},{"t":118.95,"v":-2.2},{"t":119.25,"v":0.6},{"t":119.55,"v":-2.6},{"t":119.85,"v":1.3},
{"t":120.15,"v":-0.2},{"t":120.45,"v":-3.6},{"t":120.75,"v":0.8},{"t":121.05,"v":1.1},{"t":121.35,"v":4.6},{"t":121.65,"v":0.1},{"t":121.95,"v":3.8},{"t":122.25,"v":5.0},{"t":122.55,"v":0.6},{"t":122.85,"v":4.1},
{"t":123.15,"v":2.1},{"t":123.45,"v":5.8},{"t":123.75,"v":-0.1},{"t":124.05,"v":3.4},{"t":124.35,"v":1.8},{"t":124.65,"v":4.4},{"t":124.95,"v":0.3},{"t":125.25,"v":0.5},{"t":125.55,"v":-4.8},{"t":125.85,"v":-0.9},
{"t":126.15,"v":-1.1},{"t":126.45,"v":-4.4},{"t":126.75,"v":0.4},{"t":127.05,"v":-2.2},{"t":127.35,"v":-3.6},{"t":127.65,"v":-0.1},{"t":127.95,"v":-2.8},{"t":128.25,"v":-1.5},{"t":128.55,"v":-5.3},{"t":128.85,"v":-0.8},
{"t":129.15,"v":-1.0},{"t":129.45,"v":-3.2},{"t":129.75,"v":0.7},{"t":130.05,"v":-2.9},{"t":130.35,"v":-0.6},{"t":130.65,"v":-4.6},{"t":130.95,"v":-0.3},{"t":131.25,"v":-2.4},{"t":131.55,"v":0.3},{"t":131.85,"v":-4.8},
{"t":132.15,"v":-1.2},{"t":132.45,"v":-2.7},{"t":132.75,"v":2.9},{"t":133.05,"v":0.6},{"t":133.35,"v":4.7},{"t":133.65,"v":3.9},{"t":133.95,"v":0.7},{"t":134.25,"v":5.3},{"t":134.55,"v":-0.6},{"t":134.85,"v":2.9},
{"t":135.15,"v":0.9},{"t":135.45,"v":0.2},{"t":135.75,"v":-3.3},{"t":136.05,"v":-0.8},{"t":136.35,"v":-1.2},{"t":136.65,"v":-3.4},{"t":136.95,"v":0.1},{"t":137.25,"v":-2.0},{"t":137.55,"v":-5.0},{"t":137.85,"v":-0.3},
{"t":138.15,"v":-2.6},{"t":138.45,"v":0.3},{"t":138.75,"v":-3.1},{"t":139.05,"v":-1.8},{"t":139.35,"v":-5.6},{"t":139.65,"v":-0.2},{"t":139.95,"v":-2.8},{"t":140.25,"v":-3.6},{"t":140.55,"v":-0.8},{"t":140.85,"v":-5.1},
{"t":141.15,"v":-1.5},{"t":141.45,"v":-4.3},{"t":141.75,"v":-2.1},{"t":142.05,"v":-5.9},{"t":142.35,"v":-2.1},{"t":142.65,"v":-4.5},{"t":142.95,"v":-1.5},{"t":143.25,"v":-2.2},{"t":143.55,"v":-6.5},{"t":143.85,"v":0.2},
{"t":144.15,"v":2.8},{"t":144.45,"v":-0.8},{"t":144.75,"v":1.5},{"t":145.05,"v":-1.3},{"t":145.35,"v":3.3},{"t":145.65,"v":0.2},{"t":145.95,"v":-3.4},{"t":146.25,"v":-5.6},{"t":146.55,"v":-7.1},{"t":146.85,"v":-4.1},
{"t":147.15,"v":-9.0},{"t":147.45,"v":-5.2},{"t":147.75,"v":-8.4},{"t":148.05,"v":-5.9},{"t":148.35,"v":-7.4},{"t":148.65,"v":-3.9},{"t":148.95,"v":-4.8},{"t":149.25,"v":-0.2},{"t":149.55,"v":-2.8},{"t":149.85,"v":1.7},
{"t":150.15,"v":-1.4},{"t":150.45,"v":1.3},{"t":150.75,"v":-3.5},{"t":151.05,"v":1.3},{"t":151.35,"v":-0.7},{"t":151.65,"v":-1.9},{"t":151.95,"v":1.9},{"t":152.25,"v":-3.2},{"t":152.55,"v":0.0},{"t":152.85,"v":-1.6},
{"t":153.15,"v":2.3},{"t":153.45,"v":-4.1},{"t":153.75,"v":0.3},{"t":154.05,"v":-3.3},{"t":154.35,"v":-0.1},{"t":154.65,"v":-3.2},{"t":154.95,"v":-0.8},{"t":155.25,"v":-4.6},{"t":155.55,"v":-4.0},{"t":155.85,"v":-6.8},
{"t":156.15,"v":-2.9},{"t":156.45,"v":-8.4},{"t":156.75,"v":-4.2},{"t":157.05,"v":-7.4},{"t":157.35,"v":-3.8},{"t":157.65,"v":-10.2},{"t":157.95,"v":-5.6},{"t":158.25,"v":-3.9},{"t":158.55,"v":3.6},{"t":158.85,"v":-2.6},
{"t":159.15,"v":1.8},{"t":159.45,"v":-4.4},{"t":159.75,"v":0.8},{"t":160.05,"v":4.8},{"t":160.35,"v":-6.6},{"t":160.65,"v":0.2},{"t":160.95,"v":2.6},{"t":161.25,"v":-2.2},{"t":161.55,"v":5.4},{"t":161.85,"v":-4.8},
{"t":162.15,"v":1.2},{"t":162.45,"v":-0.4},{"t":162.75,"v":7.2},{"t":163.05,"v":-3.2},{"t":163.35,"v":2.0},{"t":163.65,"v":-6.0},{"t":163.95,"v":4.0},{"t":164.25,"v":-1.6},{"t":164.55,"v":0.8},{"t":164.85,"v":5.8},
{"t":165.15,"v":-4.2},{"t":165.45,"v":3.4},{"t":165.75,"v":-0.8},{"t":166.05,"v":-7.2},{"t":166.35,"v":2.4},{"t":166.65,"v":0.0},{"t":166.95,"v":4.6},{"t":167.25,"v":-2.6},{"t":167.55,"v":6.6},{"t":167.85,"v":-6.2},
{"t":168.15,"v":0.8},{"t":168.45,"v":-2.4},{"t":168.75,"v":2.8},{"t":169.05,"v":-5.4},{"t":169.35,"v":3.8},{"t":169.65,"v":-2.2},{"t":169.95,"v":1.0},{"t":170.25,"v":-6.0},{"t":170.55,"v":3.0},{"t":170.85,"v":-2.6},
{"t":171.15,"v":-1.8},{"t":171.45,"v":6.2},{"t":171.75,"v":-4.2},{"t":172.05,"v":4.0},{"t":172.35,"v":-2.5},{"t":172.65,"v":8.3},{"t":172.95,"v":0.3},{"t":173.25,"v":4.5},{"t":173.55,"v":-0.5},{"t":173.85,"v":10.3},
{"t":174.15,"v":-3.5},{"t":174.45,"v":5.5},{"t":174.75,"v":6.0},{"t":175.05,"v":-5.3},{"t":175.35,"v":3.3},{"t":175.65,"v":6.3},{"t":175.95,"v":0.3},{"t":176.25,"v":9.8},{"t":176.55,"v":-1.0},{"t":176.85,"v":5.5},
{"t":177.15,"v":-2.5},{"t":177.45,"v":5.8},{"t":177.75,"v":-2.4},{"t":178.05,"v":4.4},{"t":178.35,"v":-4.0},{"t":178.65,"v":6.6},{"t":178.95,"v":-0.6},{"t":179.25,"v":2.8},{"t":179.55,"v":9.2},{"t":179.85,"v":-3.0},
{"t":180.15,"v":5.4},{"t":180.45,"v":0.2},{"t":180.75,"v":-5.2},{"t":181.05,"v":4.4},{"t":181.35,"v":2.0},{"t":181.65,"v":3.6},{"t":181.95,"v":-3.6},{"t":182.25,"v":0.8},{"t":182.55,"v":-7.8},{"t":182.85,"v":1.0},
{"t":183.15,"v":-4.6},{"t":183.45,"v":3.2},{"t":183.75,"v":-6.2},{"t":184.05,"v":-1.2},{"t":184.35,"v":-2.2},{"t":184.65,"v":4.0}
],
"segs": [
{"s":0,"e":3.5,"k":"on"},{"s":3.5,"e":23.5,"k":"off"},{"s":23.5,"e":43.5,"k":"on"},{"s":43.5,"e":63.5,"k":"off"},{"s":63.5,"e":83.5,"k":"on"},{"s":83.5,"e":103.5,"k":"off"},{"s":103.5,"e":123.5,"k":"on"},{"s":123.5,"e":143.5,"k":"off"},{"s":143.5,"e":163.5,"k":"on"},{"s":163.5,"e":183.5,"k":"off"},{"s":183.5,"e":185,"k":"on"}
]
},
"layer": [
{
  "data": {"values": [{"level": 20}, {"level": -20}]},
  "mark": {"type": "rule", "color": "black", "strokeWidth": 1, "strokeDash": [4, 3]},
  "encoding": {"y": {"field": "level", "type": "quantitative", "scale": {"domain": [-41.6, 40], "nice": false, "zero": false}, "axis": {"title": "Iono free phase (Meters)", "values": [-20, 0, 20]}}}
},
{
  "data": {"values": [{"level": 0}]},
  "mark": {"type": "rule", "color": "black", "strokeWidth": 1},
  "encoding": {"y": {"field": "level", "type": "quantitative", "scale": {"domain": [-41.6, 40], "nice": false, "zero": false}, "axis": {"title": "Iono free phase (Meters)", "values": [-20, 0, 20]}}}
},
{
  "data": {"name": "pts"},
  "mark": {"type": "point", "shape": "M-1,0H1M0,-1V1", "size": 144, "filled": false, "color": "#0000c4", "strokeWidth": 2.4, "opacity": 1},
  "encoding": {
    "x": {"field": "t", "type": "quantitative", "scale": {"domain": [0, 185], "nice": false, "zero": false},
      "axis": {"orient": "top", "values": [19.1, 70.7, 121.3, 167.8], "labelExpr": "datum.value < 40 ? 'Mean = 0.000m' : datum.value < 100 ? 'Std. Dev. = 0.005m' : datum.value < 150 ? 'Min. = -0.018m' : 'Max. = 0.018m'", "labelFontSize": 20.5, "labelBaseline": "alphabetic", "labelAlign": "center", "labelPadding": 14, "title": null, "domain": true, "domainColor": "#3a3a3a", "domainWidth": 2}},
    "y": {"field": "v", "type": "quantitative", "scale": {"domain": [-41.6, 40], "nice": false, "zero": false}, "axis": {"title": "Iono free phase (Meters)", "values": [-20, 0, 20]}}
  }
},
{
  "data": {"name": "segs"},
  "mark": {"type": "rect", "stroke": "black", "strokeWidth": 1},
  "encoding": {
    "x": {"field": "s", "type": "quantitative", "scale": {"domain": [0, 185], "nice": false, "zero": false},
      "axis": {"orient": "bottom", "values": [3.5, 182.9], "labelExpr": "datum.value < 50 ? '07:00:00 (370800)' : '20 min. / div.'", "labelFontSize": 20, "labelAlign": {"condition": {"test": "datum.value < 50", "value": "left"}, "value": "right"}, "labelBaseline": {"condition": {"test": "datum.value < 50", "value": "alphabetic"}, "value": "middle"}, "labelPadding": 17, "domain": false, "title": "SV 18", "titleFontSize": 20, "titleX": 450, "titleY": 50, "titleAlign": "center", "titleBaseline": "alphabetic"}},
    "x2": {"field": "e"},
    "y": {"datum": -39.8, "type": "quantitative", "scale": {"domain": [-41.6, 40], "nice": false, "zero": false}, "axis": {"title": "Iono free phase (Meters)", "values": [-20, 0, 20]}},
    "y2": {"datum": -41.4},
    "color": {"field": "k", "type": "nominal", "scale": {"domain": ["on", "off"], "range": ["black", "white"]}, "legend": null}
  }
}
]
}
